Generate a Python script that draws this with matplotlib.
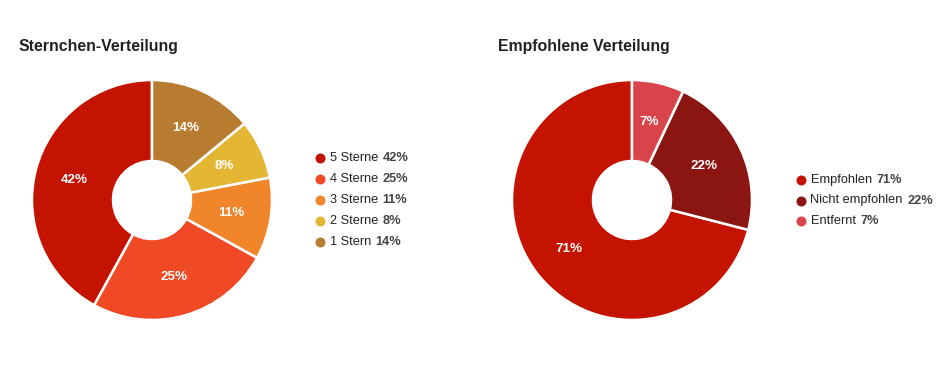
import matplotlib
matplotlib.use("Agg")
import matplotlib.pyplot as plt

plt.rcParams['font.family'] = ['Liberation Sans', 'DejaVu Sans']

# Data
star_labels = ["5 Sterne", "4 Sterne", "3 Sterne", "2 Sterne", "1 Stern"]
star_values = [42, 25, 11, 8, 14]
star_colors = ["#c41300", "#ef4a25", "#f08529", "#e3b634", "#b87c31"]

rec_labels = ["Empfohlen", "Nicht empfohlen", "Entfernt"]
rec_values = [71, 22, 7]
rec_colors = ["#c41300", "#8a1511", "#d9434b"]

W, H = 942, 384
fig = plt.figure(figsize=(W / 100, H / 100), dpi=100)
fig.patch.set_facecolor("white")


def px_axes(cx, cy, r):
    return fig.add_axes([(cx - r) / W, (H - cy - r) / H, 2 * r / W, 2 * r / H])


def donut(ax, values, colors):
    wedges, texts, autotexts = ax.pie(
        values, colors=colors, startangle=90, counterclock=True,
        autopct=lambda p: f"{p:.0f}%", pctdistance=0.667, radius=1.0,
        wedgeprops=dict(width=0.675, edgecolor="white", linewidth=1.8),
        textprops=dict(color="white", fontsize=9.6, fontweight="bold"))
    ax.set_xlim(-1.02, 1.02)
    ax.set_ylim(-1.02, 1.02)
    ax.set_aspect("equal")
    ax.axis("off")


ax1 = px_axes(152, 200, 122.4)
donut(ax1, star_values, star_colors)
ax2 = px_axes(632, 200, 122.4)
donut(ax2, rec_values, rec_colors)

# overlay in pixel coordinates
ov = fig.add_axes([0, 0, 1, 1])
ov.set_xlim(0, W)
ov.set_ylim(H, 0)
ov.axis("off")

ov.text(19, 46, "Sternchen-Verteilung", fontsize=11.4, fontweight="bold",
        color="#222222", va="center", ha="left")
ov.text(498, 46, "Empfohlene Verteilung", fontsize=11.4, fontweight="bold",
        color="#222222", va="center", ha="left")


def legend(x, y0, dy, labels, values, colors):
    for i, (lab, val, col) in enumerate(zip(labels, values, colors)):
        y = y0 + i * dy
        ov.plot([x], [y], marker="o", markersize=7.2, color=col, markeredgewidth=0)
        t = ov.text(x + 9.5, y, lab, fontsize=9.2, color="#222222", va="center", ha="left")
        ov.annotate(f"{val}%", xy=(1, 0.5), xycoords=t, xytext=(3.5, 0),
                    textcoords="offset points", fontsize=9.2, fontweight="bold",
                    color="#444444", va="center", ha="left")


legend(320, 158, 21, star_labels, star_values, star_colors)
legend(801, 180, 20.5, rec_labels, rec_values, rec_colors)

fig.savefig("out.png", dpi=100, facecolor="white")
